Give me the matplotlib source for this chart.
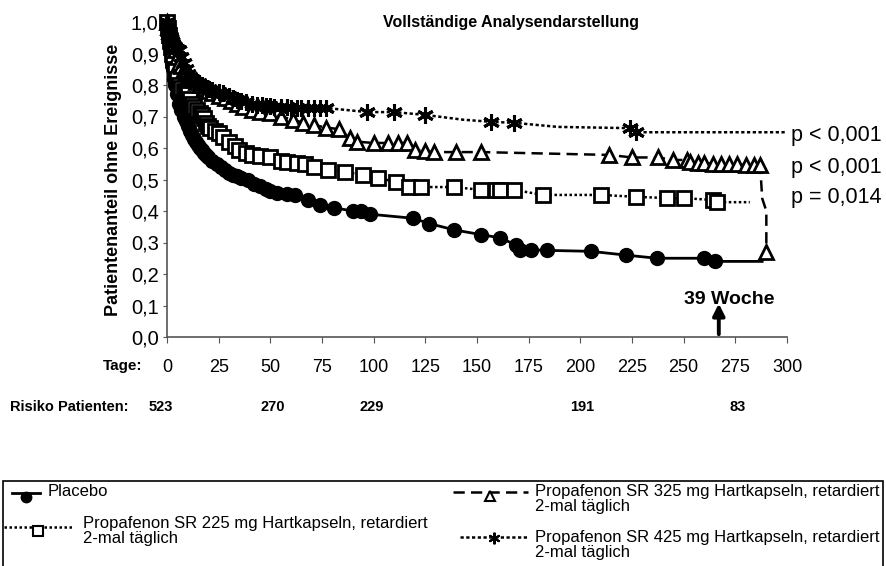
import matplotlib
matplotlib.use("Agg")
import matplotlib.pyplot as plt
from matplotlib.lines import Line2D
from matplotlib.patches import Rectangle

# ---- data ----
placebo_days = [0, 0.5, 1, 1.5, 2, 2.5, 3, 3.5, 4, 5, 6, 7, 8, 9, 10, 11, 12, 13, 14, 15, 16,
                17, 18, 19, 20, 22, 24, 26, 28, 30, 32, 34, 36, 39, 42, 45, 48, 50, 53, 58,
                62, 68, 74, 81, 90, 94, 98, 119, 127, 139, 152, 161, 169, 171, 176, 184,
                205, 222, 237, 260, 265, 288]
placebo_surv = [1.0, 0.97, 0.95, 0.92, 0.9, 0.87, 0.85, 0.82, 0.8, 0.77, 0.74, 0.72, 0.70,
                0.685, 0.67, 0.655, 0.64, 0.63, 0.62, 0.61, 0.60, 0.593, 0.585, 0.577, 0.57,
                0.56, 0.55, 0.54, 0.53, 0.52, 0.515, 0.51, 0.505, 0.50, 0.487, 0.48, 0.47,
                0.465, 0.457, 0.455, 0.45, 0.435, 0.42, 0.41, 0.40, 0.40, 0.39, 0.377, 0.36,
                0.34, 0.325, 0.315, 0.292, 0.277, 0.277, 0.275, 0.272, 0.26, 0.25, 0.25,
                0.24, 0.24]

d225_days = [0, 0.5, 1, 1.5, 2, 2.5, 3, 4, 5, 6, 7, 8, 9, 10, 11, 12, 13, 14.5, 16, 17, 18,
             19, 20, 21, 23, 25, 27, 30, 33, 35, 38, 41, 45, 50, 55, 58, 63, 67, 71, 78, 86,
             95, 102, 111, 117, 123, 139, 152, 159, 161, 168, 182, 210, 227, 242, 250, 264,
             266, 282]
d225_surv = [1.0, 0.98, 0.96, 0.94, 0.92, 0.9, 0.88, 0.85, 0.82, 0.80, 0.79, 0.78, 0.775,
             0.77, 0.755, 0.74, 0.73, 0.72, 0.71, 0.705, 0.695, 0.68, 0.67, 0.663, 0.655,
             0.647, 0.635, 0.62, 0.605, 0.594, 0.585, 0.578, 0.575, 0.57, 0.56, 0.555,
             0.552, 0.548, 0.54, 0.53, 0.524, 0.514, 0.505, 0.492, 0.476, 0.476, 0.476,
             0.467, 0.467, 0.467, 0.467, 0.451, 0.451, 0.445, 0.441, 0.441, 0.435, 0.428,
             0.428]

d325_days = [0, 0.5, 1, 1.5, 2, 2.5, 3, 4, 5, 6, 7, 8, 9, 10, 11, 12, 13, 14, 16, 18, 20,
             22, 25, 28, 31, 34, 37, 41, 45, 50, 55, 61, 66, 71, 77, 83, 88.5, 92, 100, 107,
             112, 116, 120, 125, 129, 140, 152, 214, 225, 237.5, 245, 251.5, 253, 257, 260,
             264, 268, 272, 276, 280, 284, 287, 288, 290, 290]
d325_surv = [1.0, 0.985, 0.97, 0.96, 0.95, 0.94, 0.93, 0.91, 0.89, 0.87, 0.86, 0.85, 0.84,
             0.83, 0.825, 0.82, 0.815, 0.81, 0.80, 0.79, 0.78, 0.775, 0.765, 0.76, 0.75,
             0.74, 0.73, 0.72, 0.715, 0.71, 0.70, 0.69, 0.68, 0.673, 0.665, 0.66, 0.632,
             0.62, 0.616, 0.616, 0.616, 0.616, 0.594, 0.59, 0.587, 0.587, 0.587, 0.578,
             0.57, 0.57, 0.562, 0.562, 0.556, 0.552, 0.552, 0.55, 0.55, 0.548, 0.548,
             0.546, 0.546, 0.546, 0.44, 0.40, 0.27]

d425_days = [0, 0.5, 1, 1.5, 2, 2.5, 3, 4, 5, 6, 7, 8, 9, 10, 11, 12, 14, 15.5, 17, 19, 20.5,
             22, 25, 27, 30, 32, 34, 36, 38, 41, 43.5, 46, 48, 50, 52, 55, 58, 60, 63, 65,
             68, 71, 74, 77, 97, 110, 125, 143, 157, 168, 189, 224, 227, 300]
d425_surv = [1.0, 0.985, 0.97, 0.96, 0.95, 0.94, 0.93, 0.92, 0.915, 0.91, 0.89, 0.87, 0.85,
             0.835, 0.825, 0.82, 0.81, 0.805, 0.80, 0.79, 0.786, 0.783, 0.777, 0.775,
             0.765, 0.76, 0.752, 0.748, 0.745, 0.74, 0.737, 0.735, 0.733, 0.732, 0.73,
             0.73, 0.729, 0.728, 0.728, 0.727, 0.727, 0.727, 0.727, 0.727, 0.714, 0.714,
             0.705, 0.69, 0.683, 0.68, 0.667, 0.663, 0.65, 0.65]

risk_days = [-3, 51, 99, 201, 276]
risk_counts = [523, 270, 229, 191, 83]
p_values = ["p < 0,001", "p < 0,001", "p = 0,014"]

labels = ["Placebo",
          "Propafenon SR 225 mg Hartkapseln, retardiert\n2-mal täglich",
          "Propafenon SR 325 mg Hartkapseln, retardiert\n2-mal täglich",
          "Propafenon SR 425 mg Hartkapseln, retardiert\n2-mal täglich"]

plt.rcParams["font.family"] = ["Liberation Sans", "DejaVu Sans"]

W, H = 887, 566
fig = plt.figure(figsize=(W / 100, H / 100), dpi=100)
ax = fig.add_axes([167 / W, 1 - 337 / H, 620 / W, 315 / H])

asterisk = (6, 2, 0)
styles = [
    dict(color="black", lw=2.0, ls="-", marker="o", ms=10, mfc="black", mec="black"),
    dict(color="black", lw=1.8, ls=(0, (1.0, 1.0)), marker="s", ms=9.5, mfc="white", mec="black", mew=2),
    dict(color="black", lw=1.8, ls=(0, (4.5, 2.5)), marker="^", ms=10, mfc="white", mec="black", mew=2),
    dict(color="black", lw=1.8, ls=(0, (1.3, 1.0)), marker=asterisk, ms=12, mfc="black", mec="black", mew=2.2),
]

# marks only where the reference shows them
n325 = len(d325_days)
mark325 = [i for i in range(n325) if i not in (n325 - 3, n325 - 2)]
mark425 = [i for i in range(len(d425_days)) if d425_days[i] not in (143, 189, 300)]
mark225 = list(range(len(d225_days) - 1))
markpl = list(range(len(placebo_days) - 1))

series = [(placebo_days, placebo_surv, markpl),
          (d225_days, d225_surv, mark225),
          (d325_days, d325_surv, mark325),
          (d425_days, d425_surv, mark425)]
for (dx, dy, mk), st in zip(series, styles):
    ax.plot(dx, dy, markevery=mk, clip_on=False, zorder=3, **st)

ax.set_xlim(0, 300)
ax.set_ylim(0, 1.0)
ax.set_xticks(range(0, 301, 25))
ax.set_xticklabels([str(v) for v in range(0, 301, 25)], fontsize=13)
ax.set_yticks([i / 10 for i in range(11)])
ax.set_yticklabels([f"{i / 10:.1f}".replace(".", ",") for i in range(11)], fontsize=14.5)
ax.tick_params(axis="x", direction="out", length=4, pad=12, color="#555555")
ax.tick_params(axis="y", direction="out", length=3, pad=3, color="#555555")
for s in ("top", "right"):
    ax.spines[s].set_visible(False)
for s in ("left", "bottom"):
    ax.spines[s].set_color("#555555")
    ax.spines[s].set_linewidth(1.2)

ax.set_ylabel("Patientenanteil ohne Ereignisse", fontsize=13, fontweight="bold", labelpad=6)
ax.text(0.555, 1.0, "Vollständige Analysendarstellung", transform=ax.transAxes,
        ha="center", va="center", fontsize=11.5, fontweight="bold")

# 39 week arrow
ax.annotate("", xy=(267, 0.115), xytext=(267, 0.0),
            arrowprops=dict(arrowstyle="-|>,head_width=0.35,head_length=0.7", lw=2.8, color="black"),
            annotation_clip=False)
ax.text(250, 0.12, "39 Woche", ha="left", va="center", fontsize=14, fontweight="bold", zorder=5)

# p-values
for yv, p in zip([0.64, 0.537, 0.444], p_values):
    ax.text(302, yv, p, ha="left", va="center", fontsize=15.5, clip_on=False)

# Tage / Risiko rows
fig.text(142 / W, 1 - 366 / H, "Tage:", ha="right", va="center", fontsize=11, fontweight="bold")
fig.text(10 / W, 1 - 407 / H, "Risiko Patienten:", ha="left", va="center", fontsize=10.5, fontweight="bold")
for d, n in zip(risk_days, risk_counts):
    ax.text(d, -0.222, str(n), ha="center", va="center", fontsize=10.5, fontweight="bold",
            transform=ax.get_xaxis_transform(), clip_on=False)

# legend box drawn by hand
fig.add_artist(Rectangle((3 / W, -0.02), 880 / W, 1 - 481 / H + 0.02, transform=fig.transFigure,
                         fill=False, ec="black", lw=1.2))
entries = [
    # sample x0, x1, line y, marker x, marker y, text x, text y
    (12, 40, 493, 26, 497, 48, 492),
    (4, 72, 527, 38, 531, 83, 531),
    (453, 528, 492, 490, 496, 535, 499),
    (460, 528, 537, 494, 538, 535, 545),
]
for (x0, x1, ly, mx, my, tx, ty), st, lab in zip(entries, styles, labels):
    line_st = {k: v for k, v in st.items() if k in ("color", "lw", "ls")}
    fig.add_artist(Line2D([x0 / W, x1 / W], [1 - ly / H] * 2, transform=fig.transFigure, **line_st))
    mst = {k: v for k, v in st.items() if k in ("marker", "mfc", "mec")}
    fig.add_artist(Line2D([mx / W], [1 - my / H], transform=fig.transFigure, ls="none",
                          ms=st["ms"] * 0.7, mew=1.5, **mst))
    fig.text(tx / W, 1 - ty / H, lab, ha="left", va="center", fontsize=12, linespacing=1.05)

fig.savefig("out.png", dpi=100)
